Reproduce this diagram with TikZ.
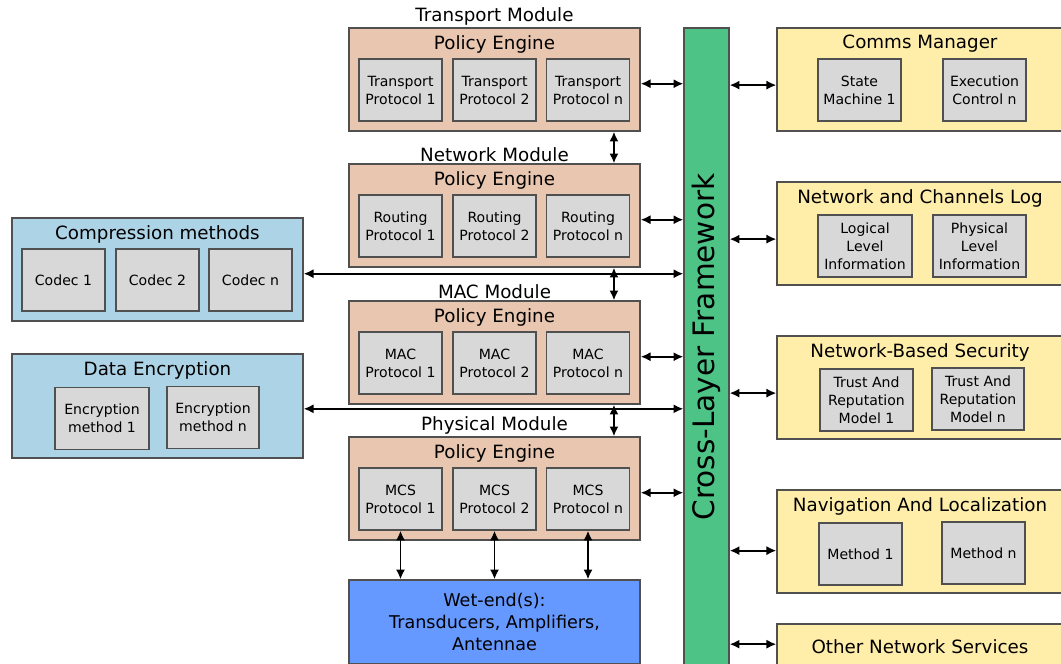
\documentclass[tikz,border=0pt]{standalone}
\usepackage{fontspec}
\setmainfont{DejaVu Sans}
\usetikzlibrary{arrows.meta}
\usetikzlibrary{positioning}

\definecolor{modfill}{HTML}{E9C6AF}
\definecolor{boxfill}{HTML}{D8D8D8}
\definecolor{cmpfill}{HTML}{ADD3E6}
\definecolor{svcfill}{HTML}{FFEEAA}
\definecolor{clffill}{HTML}{4EC386}
\definecolor{wetfill}{HTML}{6699FF}
\definecolor{edge}{HTML}{505050}

\tikzset{
  panel/.style={draw=edge, line width=0.9pt, rectangle, inner sep=0pt},
  module/.style={panel, fill=modfill, minimum width=7.275cm, minimum height=2.575cm},
  side/.style={panel, fill=cmpfill, minimum width=7.275cm, minimum height=2.575cm},
  svc/.style={panel, fill=svcfill, minimum width=7.15cm, minimum height=2.575cm},
  proto/.style={panel, fill=boxfill, minimum width=2.075cm, minimum height=1.55cm,
    align=center, font=\fontsize{10}{12.8}\selectfont},
  ttl/.style={font=\fontsize{13}{15}\selectfont, inner sep=1.5pt},
  head/.style={ttl, anchor=north, yshift=-4pt},
  link/.style={{Latex[length=7pt,width=6.5pt]}-{Latex[length=7pt,width=6.5pt]}, line width=1.3pt},
}

\begin{document}
\begin{tikzpicture}[x=0.025cm, y=-0.025cm]
  \clip (0,0) rectangle (1061,664);

  % cross-layer bar
  \node[panel, fill=clffill, minimum width=1.125cm, minimum height=16.05cm] (clf) at (706.5,349) {};
  \node[rotate=90, font=\fontsize{21}{24}\selectfont] (clf-t) at (706.5,347) {Cross-Layer Framework};

  % protocol stack
  \foreach \nm/\modname/\kind/\y in {tm/Transport/Transport/79.5, nm/Network/Routing/215.5,
      mm/MAC/MAC/352.5, pm/Physical/MCS/488.5}{
    \node[module] (\nm) at (494.5,\y) {};
    \node[ttl, anchor=south, yshift=-0.5pt] (\nm-t) at (\nm.north) {\modname\ Module};
    \node[head] (\nm-e) at (\nm.north) {Policy Engine};
    \foreach \k/\x in {1/400.5, 2/494.5, n/588}
      \node[proto] (\nm-\k) at (\x,\y+10.5) {\kind\\Protocol \k};
    \draw[link] ([yshift=-3pt]\nm.east) -- ([yshift=-3pt]\nm.east -| clf.west);
  }
  \foreach \a/\b in {tm/nm, nm/mm, mm/pm}
    \draw[link] ([xshift=-19pt]\a.south east) -- ([xshift=-19pt]\b.north east);

  % wet-end
  \node[panel, fill=wetfill, minimum width=7.275cm, minimum height=2.1cm, align=center,
    font=\fontsize{12.5}{15.5}\selectfont] (we) at (494.5,622)
    {Wet-end(s):\\Transducers, Amplifiers,\\Antennae};
  \foreach \k in {1,2,n}
    \draw[link] (pm-\k.south) -- (pm-\k.south |- we.north);

  % compression and encryption
  \node[side] (cmp) at (157.5,269.5) {};
  \node[head] (cmp-t) at (cmp.north) {Compression methods};
  \foreach \k/\x in {1/63.5, 2/157.5, n/250.5}
    \node[proto] (cmp-\k) at (\x,280) {Codec \k};
  \node[side, minimum height=2.6cm] (enc) at (157.5,406) {};
  \node[head] (enc-t) at (enc.north) {Data Encryption};
  \node[proto, minimum width=2.35cm] (enc-1) at (102,418.5) {Encryption\\method 1};
  \node[proto, minimum width=2.3cm] (enc-n) at (213,417.5) {Encryption\\method n};
  \draw[link] ([yshift=-3pt]cmp.east) -- ([yshift=-3pt]cmp.east -| clf.west);
  \draw[link] ([yshift=-2pt]enc.east) -- ([yshift=-2pt]enc.east -| clf.west);

  % network services
  \node[svc] (cm) at (920,79.5) {};
  \node[head] (cm-t) at (cm.north) {Comms Manager};
  \node[proto] (cm-1) at (859.5,90) {State\\Machine 1};
  \node[proto] (cm-n) at (984.5,90) {Execution\\Control n};

  \node[svc] (log) at (920,233.5) {};
  \node[head] (log-t) at (log.north) {Network and Channels Log};
  \node[proto, minimum width=2.35cm] (log-1) at (865,246) {Logical\\Level\\Information};
  \node[proto, minimum width=2.325cm] (log-n) at (979.5,246) {Physical\\Level\\Information};

  \node[svc] (sec) at (920,387.5) {};
  \node[head] (sec-t) at (sec.north) {Network-Based Security};
  \node[proto, minimum width=2.325cm] (sec-1) at (866.5,400) {Trust And\\Reputation\\Model 1};
  \node[proto, minimum width=2.3cm] (sec-n) at (978,399) {Trust And\\Reputation\\Model n};

  \node[svc] (nav) at (920,541.5) {};
  \node[head] (nav-t) at (nav.north) {Navigation And Localization};
  \node[proto] (nav-1) at (860.5,554) {Method 1};
  \node[proto] (nav-n) at (983.5,553) {Method n};

  \node[svc, minimum height=1.15cm, ttl] (oth) at (920,647) {Other Network Services};

  \foreach \s/\dy in {cm/-4pt, log/-4pt, sec/-4pt, nav/-6.5pt, oth/2pt}{
    \path ([yshift=\dy]\s.west) coordinate (\s-in);
    \draw[link] (\s-in -| clf.east) -- (\s-in);
  }
\end{tikzpicture}
\end{document}
